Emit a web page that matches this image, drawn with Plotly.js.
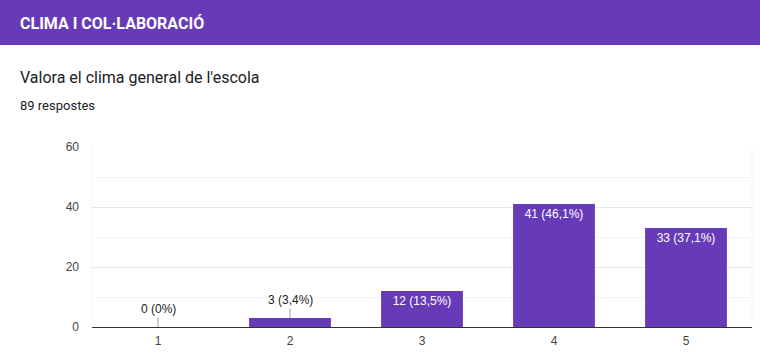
<!DOCTYPE html>
<html>
<head>
<meta charset="utf-8">
<script src="https://cdn.plot.ly/plotly-3.0.1.min.js"></script>
<style>
html,body{margin:0;padding:0;background:#fff;}
#chart{width:760px;height:359px;}
</style>
</head>
<body>
<div id="chart"></div>
<script>
var sectionTitle = 'CLIMA I COL·LABORACIÓ';
var questionTitle = "Valora el clima general de l'escola";
var responsesText = '89 respostes';
var categories = ['1', '2', '3', '4', '5'];
var values = [0, 3, 12, 41, 33];
var valueLabels = ['0 (0%)', '3 (3,4%)', '12 (13,5%)', '41 (46,1%)', '33 (37,1%)'];
var yTicks = [0, 20, 40, 60];

var W = 760, H = 359, mL = 92, mR = 8, mT = 147, mB = 32;
var pw = W - mL - mR, ph = H - mT - mB;
function px(x){ return (x - mL) / pw; }
function py(y){ return (H - mB - y) / ph; }

var purple = '#673ab7';
var insideText = values.map(function(v, i){ return v >= 10 ? valueLabels[i] : ''; });

var trace = {
  type: 'bar',
  x: categories,
  y: values,
  marker: {color: purple},
  text: insideText,
  textposition: 'inside',
  insidetextanchor: 'end',
  constraintext: 'none',
  textfont: {family: 'Liberation Sans, Arial, sans-serif', size: 12, color: '#ffffff'},
  hoverinfo: 'none'
};

var annotations = [];
values.forEach(function(v, i){
  if (v < 10) {
    annotations.push({
      x: i, y: v, xref: 'x', yref: 'y',
      text: valueLabels[i], showarrow: true, arrowhead: 0, arrowwidth: 1,
      arrowcolor: '#9e9e9e', ax: 0, ay: -18, standoff: 0,
      font: {family: 'Liberation Sans, Arial, sans-serif', size: 12, color: '#222222'}
    });
  }
});
annotations.push({
  xref: 'paper', yref: 'paper', x: px(18), y: py(23), xanchor: 'left', yanchor: 'middle',
  text: '<b>' + sectionTitle + '</b>', showarrow: false,
  font: {family: 'Roboto, sans-serif', size: 16, color: '#ffffff'}
});
annotations.push({
  xref: 'paper', yref: 'paper', x: px(18), y: py(77), xanchor: 'left', yanchor: 'middle',
  text: questionTitle, showarrow: false,
  font: {family: 'Roboto, sans-serif', size: 16, color: '#202124'}
});
annotations.push({
  xref: 'paper', yref: 'paper', x: px(18), y: py(106), xanchor: 'left', yanchor: 'middle',
  text: responsesText, showarrow: false,
  font: {family: 'Roboto, sans-serif', size: 13, color: '#202124'}
});

var shapes = [
  {type: 'rect', xref: 'paper', yref: 'paper', x0: px(0), x1: px(760), y0: py(45), y1: py(0),
   fillcolor: purple, line: {width: 0}, layer: 'above'},
  {type: 'line', xref: 'paper', yref: 'paper', x0: 0, x1: 0, y0: 0, y1: 1,
   line: {color: '#f5f5f5', width: 1}, layer: 'below'},
  {type: 'line', xref: 'paper', yref: 'paper', x0: 1, x1: 1, y0: 0, y1: 1,
   line: {color: '#f5f5f5', width: 1}, layer: 'below'}
];

var layout = {
  width: W, height: H,
  margin: {l: mL, r: mR, t: mT, b: mB, pad: 0},
  paper_bgcolor: '#ffffff', plot_bgcolor: '#ffffff',
  showlegend: false,
  bargap: 0.38,
  font: {family: 'Liberation Sans, Arial, sans-serif', size: 12, color: '#444444'},
  xaxis: {
    type: 'category', showgrid: false, showline: true, linecolor: '#333333', linewidth: 1,
    ticks: '', ticklabelstandoff: 3, tickfont: {size: 12, color: '#444444'}, fixedrange: true, zeroline: false
  },
  yaxis: {
    range: [0, 60], tickvals: yTicks, showgrid: true, gridcolor: '#e8e8e8', gridwidth: 1,
    zeroline: false, showline: false, ticks: '', ticklabelstandoff: 12,
    tickfont: {size: 12, color: '#444444'}, fixedrange: true,
    minor: {tickvals: [10, 30, 50], showgrid: true, gridcolor: '#f4f4f4', gridwidth: 1}
  },
  annotations: annotations,
  shapes: shapes
};

Plotly.newPlot('chart', [trace], layout, {displayModeBar: false, staticPlot: true});
</script>
</body>
</html>
